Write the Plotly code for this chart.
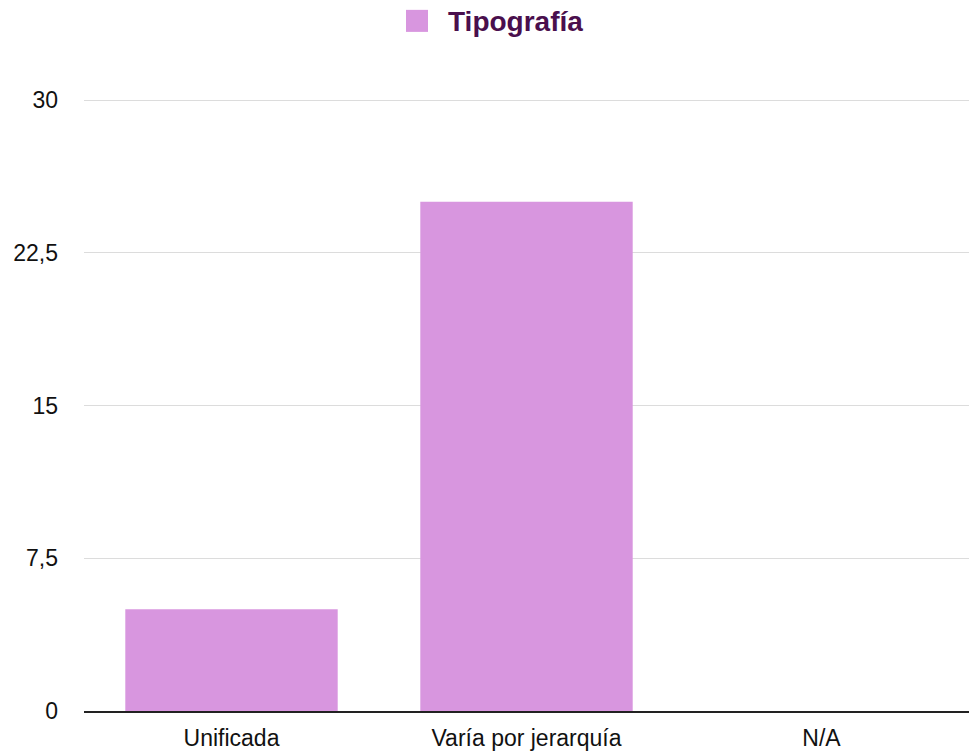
import plotly.graph_objects as go

categories = ["Unificada", "Varía por jerarquía", "N/A"]
values = [5, 25, 0]
series_name = "Tipografía"
y_tickvals = [0, 7.5, 15, 22.5, 30]
y_ticktext = ["0", "7,5", "15", "22,5", "30"]

W, H = 969, 753
L, R, T, B = 84, 0, 100, 42
pw, ph = W - L - R, H - T - B

def px_x(p):
    return (p - L) / pw

def px_y(p):
    return (H - B - p) / ph

bar_color = "#D896DF"
legend_text_color = "#4A0F4D"
font_family = "Liberation Sans, Arial, Helvetica, sans-serif"

fig = go.Figure()
fig.add_trace(go.Bar(
    x=categories, y=values, name=series_name,
    marker=dict(color=bar_color, line=dict(width=0)),
    showlegend=False,
))

fig.update_layout(
    width=W, height=H,
    margin=dict(l=L, r=R, t=T - 1, b=B, pad=0),
    paper_bgcolor="white", plot_bgcolor="white",
    bargap=0.28,
    font=dict(family=font_family, size=23, color="#111111"),
    showlegend=False,
    xaxis=dict(
        showgrid=False, showline=True, linecolor="#222222", linewidth=2,
        ticks="", ticklabelstandoff=5,
        tickfont=dict(size=23, color="#111111"),
    ),
    yaxis=dict(
        range=[0, 30.05], tickvals=y_tickvals, ticktext=y_ticktext,
        showgrid=True, gridcolor="#DCDCDC", gridwidth=1,
        zeroline=False, showline=False, ticks="",
        ticklabelstandoff=25,
        tickfont=dict(size=23, color="#111111"),
    ),
    shapes=[dict(
        type="rect", xref="paper", yref="paper",
        x0=px_x(406), x1=px_x(428), y0=px_y(33), y1=px_y(11),
        fillcolor=bar_color, line=dict(width=0),
    )],
    annotations=[dict(
        text="<b>" + series_name + "</b>", xref="paper", yref="paper",
        x=px_x(446), y=px_y(23), xanchor="left", yanchor="middle",
        showarrow=False,
        font=dict(family=font_family, size=28, color=legend_text_color),
    )],
)

fig.write_html(
    "out.html",
    config={"displayModeBar": False},
    post_script="document.body.style.margin='0';document.body.style.overflow='hidden';",
)
